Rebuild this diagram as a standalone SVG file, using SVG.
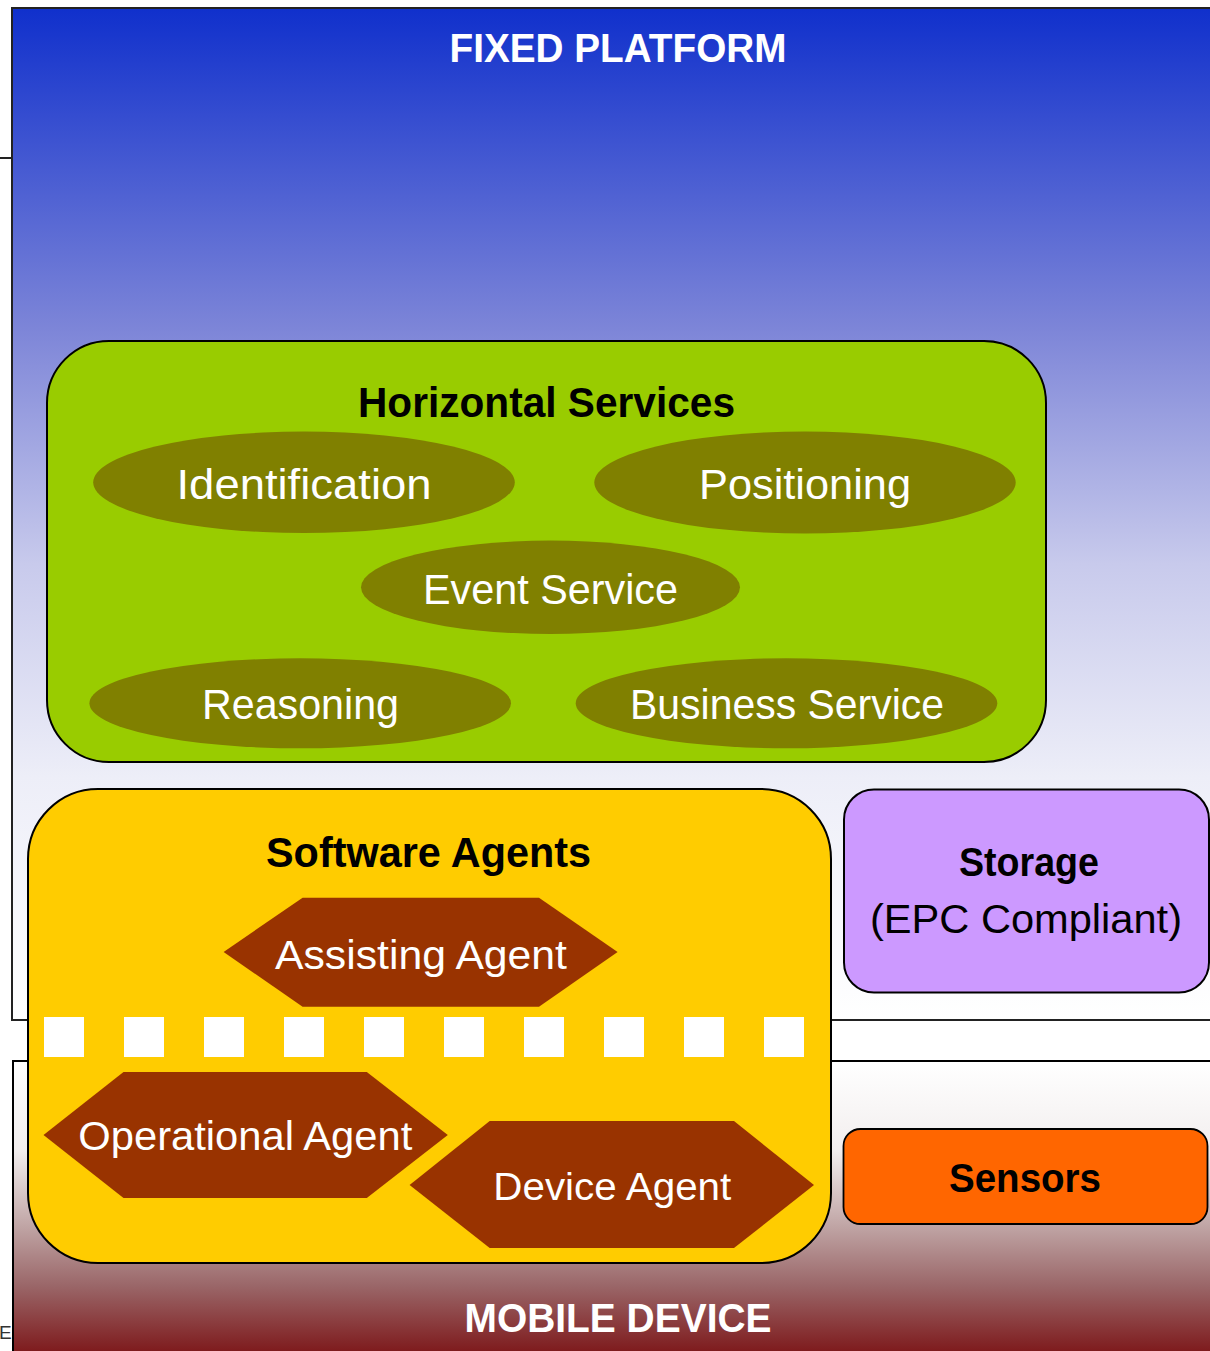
<svg xmlns="http://www.w3.org/2000/svg" width="1210" height="1351" viewBox="0 0 1210 1351">
<style>
.t{font-family:"Liberation Sans",Arial,sans-serif;text-anchor:middle}
.b{font-weight:bold}
.w{fill:#ffffff}
.k{fill:#000000}
.ell{fill:#808000}
.hex{fill:#993300}
.sq{fill:#ffffff}
.box{stroke:#000000;stroke-width:2}
</style>
<defs>
<linearGradient id="gFixed" x1="0" y1="0" x2="0" y2="1">
<stop offset="0" stop-color="#1030CC"/>
<stop offset="0.32" stop-color="#7E86D8"/>
<stop offset="0.55" stop-color="#C8CAEC"/>
<stop offset="0.76" stop-color="#EDEEF8"/>
<stop offset="1" stop-color="#FFFFFF"/>
</linearGradient>
<linearGradient id="gMobile" x1="0" y1="0" x2="0" y2="1">
<stop offset="0" stop-color="#FFFFFF"/>
<stop offset="0.3" stop-color="#F2EEEE"/>
<stop offset="0.55" stop-color="#C0A5A5"/>
<stop offset="0.75" stop-color="#9A6668"/>
<stop offset="1" stop-color="#7A1012"/>
</linearGradient>
</defs>

<g id="fixed-platform">
<rect x="12" y="8" width="1210" height="1012" fill="url(#gFixed)" stroke="#222222" stroke-width="2"/>
<text class="t b w" x="618" y="62" font-size="40" textLength="337" lengthAdjust="spacingAndGlyphs">FIXED PLATFORM</text>
</g>
<line x1="0" y1="158" x2="12" y2="158" stroke="#222222" stroke-width="2"/>

<g id="mobile-device">
<rect x="13" y="1061" width="1210" height="300" fill="url(#gMobile)" stroke="#000000" stroke-width="2"/>
<text class="t b w" x="618" y="1332" font-size="40" textLength="307" lengthAdjust="spacingAndGlyphs">MOBILE DEVICE</text>
</g>
<text x="-1" y="1339" font-family="Liberation Sans,Arial,sans-serif" font-size="19" fill="#333333">E</text>

<g id="horizontal-services">
<rect class="box" x="47" y="341" width="999" height="421" rx="62" ry="62" fill="#99CC00"/>
<text class="t b k" x="546.5" y="417" font-size="42" textLength="377" lengthAdjust="spacingAndGlyphs">Horizontal Services</text>
</g>
<g id="identification">
<ellipse class="ell" cx="304" cy="482.3" rx="210.8" ry="50.7"/>
<text class="t w" x="304" y="499" font-size="43" textLength="255" lengthAdjust="spacingAndGlyphs">Identification</text>
</g>
<g id="positioning">
<ellipse class="ell" cx="805" cy="482.5" rx="210.7" ry="51"/>
<text class="t w" x="805" y="498.5" font-size="43" textLength="212" lengthAdjust="spacingAndGlyphs">Positioning</text>
</g>
<g id="event-service">
<ellipse class="ell" cx="550.5" cy="587.3" rx="189.5" ry="46.7"/>
<text class="t w" x="550.5" y="604" font-size="42" textLength="255" lengthAdjust="spacingAndGlyphs">Event Service</text>
</g>
<g id="reasoning">
<ellipse class="ell" cx="300.2" cy="703.3" rx="210.8" ry="45"/>
<text class="t w" x="300.5" y="719" font-size="42" textLength="197" lengthAdjust="spacingAndGlyphs">Reasoning</text>
</g>
<g id="business-service">
<ellipse class="ell" cx="786.5" cy="703.3" rx="210.8" ry="45"/>
<text class="t w" x="787" y="719" font-size="42" textLength="314" lengthAdjust="spacingAndGlyphs">Business Service</text>
</g>

<g id="storage">
<rect class="box" x="844" y="789.5" width="365" height="203" rx="30" ry="30" fill="#CC99FF"/>
<text class="t b k" x="1029" y="876" font-size="40" textLength="140" lengthAdjust="spacingAndGlyphs">Storage</text>
<text class="t k" x="1026" y="933" font-size="40" textLength="312" lengthAdjust="spacingAndGlyphs">(EPC Compliant)</text>
</g>

<g id="sensors">
<rect x="843.5" y="1129" width="364" height="95" rx="17" ry="17" fill="#FF6600" stroke="#000000" stroke-width="1.8"/>
<text class="t b k" x="1025" y="1192" font-size="40" textLength="152" lengthAdjust="spacingAndGlyphs">Sensors</text>
</g>

<g id="software-agents">
<rect class="box" x="28" y="789" width="803" height="474" rx="70" ry="70" fill="#FFCC00"/>
<text class="t b k" x="428.5" y="867" font-size="42" textLength="325" lengthAdjust="spacingAndGlyphs">Software Agents</text>
<g id="divider">
<rect class="sq" x="44" y="1017" width="40" height="40"/>
<rect class="sq" x="124" y="1017" width="40" height="40"/>
<rect class="sq" x="204" y="1017" width="40" height="40"/>
<rect class="sq" x="284" y="1017" width="40" height="40"/>
<rect class="sq" x="364" y="1017" width="40" height="40"/>
<rect class="sq" x="444" y="1017" width="40" height="40"/>
<rect class="sq" x="524" y="1017" width="40" height="40"/>
<rect class="sq" x="604" y="1017" width="40" height="40"/>
<rect class="sq" x="684" y="1017" width="40" height="40"/>
<rect class="sq" x="764" y="1017" width="40" height="40"/>
</g>
</g>
<g id="assisting-agent">
<polygon class="hex" points="223.6,952 302.6,897.7 539,897.7 617.6,952 539,1006.7 302.6,1006.7"/>
<text class="t w" x="421" y="969" font-size="41" textLength="292" lengthAdjust="spacingAndGlyphs">Assisting Agent</text>
</g>
<g id="operational-agent">
<polygon class="hex" points="43.5,1135 123.5,1072 366.8,1072 447.8,1135 366.8,1198 123.5,1198"/>
<text class="t w" x="245.3" y="1150" font-size="40" textLength="334" lengthAdjust="spacingAndGlyphs">Operational Agent</text>
</g>
<g id="device-agent">
<polygon class="hex" points="409.6,1185 489.7,1121 734,1121 814,1185 734,1248 489.7,1248"/>
<text class="t w" x="612.3" y="1199.5" font-size="39" textLength="238" lengthAdjust="spacingAndGlyphs">Device Agent</text>
</g>

<g id="connectors"></g>
</svg>
